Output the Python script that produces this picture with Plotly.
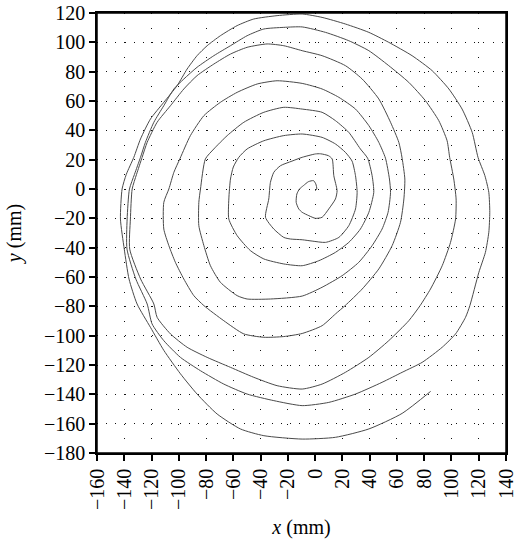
import plotly.graph_objects as go

# Spiral trajectory (mm), from the centre outward
path_x = [0.0, 1.2, 0.5, -1.2, -4.9, -8.6, -11.5, -13.4, -13.9, -12.0, -9.5, -4.6, 0.2, 5.1, 10.0, 14.9, 16.1, 13.7, 12.5, 9.8, 4.0, 0.2, -9.5, -17.0, -25.4,
          -30.3, -32.8, -34.0, -36.4, -30.3, -23.0, -18.1, -9.5, -2.2, 7.6, 17.4, 24.7, 29.6, 30.8, 29.6, 27.1, 22.2, 14.9, 5.1, -9.5, -23.0, -37.6, -49.9, -56.0,
          -60.0, -62.1, -63.3, -63.3, -57.2, -47.5, -37.6, -23.0, -9.5, 2.7, 14.9, 24.7, 33.2, 39.4, 43.0, 41.8, 38.5, 33.2, 24.7, 14.9, 5.1, -9.5, -23.0, -37.6, -52.3, -64.5, -74.3, -80.5,
          -84.1, -85.3, -85.3, -81.6, -76.8, -69.5, -57.2, -49.9, -32.8, -9.5, 5.1, 19.8, 32.0, 41.8, 49.1, 53.5, 55.3, 54.5, 51.6, 46.7, 39.4, 29.6, 17.4, 5.1, -9.5, -27.9, -42.5, -57.2, -69.5, -81.6, -91.5, -99.0,
          -103.6, -107.3, -111.0, -111.0, -107.3, -102.5, -96.3, -89.0, -81.6, -67.0, -52.3, -37.6, -23.0, -9.5, 5.1, 14.9, 22.0, 34.5, 46.7, 56.5, 62.6, 65.1, 65.8, 63.8, 61.4, 55.3, 46.7, 34.5, 22.2, 5.1, -9.5, -23.0, -35.2, -49.9, -62.1, -74.3, -86.6, -96.3, -106.1, -115.9, -123.2, -126.9,
          -131.0, -134.2, -135.5, -136.0, -128.0, -118.3, -115.9, -106.1, -93.9, -79.2, -62.1, -45.0, -27.9, -9.5, 5.1, 22.2, 39.4, 54.0, 68.7, 77.0, 84.6, 93.2, 99.3, 103.0, 103.4, 101.7, 98.7, 96.8, 90.7, 80.9, 68.7, 54.0, 39.4, 24.7, 7.6, -9.5, -23.0, -37.6, -49.9, -62.1, -74.3, -86.6, -96.3, -103.6, -111.0, -118.3, -124.5, -128.1,
          -132.5, -136.2, -137.9, -138.0, -131.5, -123.2, -119.6, -111.0, -98.8, -84.1, -67.0, -49.9, -30.3, -9.5, 10.0, 29.6, 49.1, 63.8, 78.5, 93.2, 103.0, 110.3, 113.5, 120.1, 124.9, 127.4, 128.1, 127.4, 124.5, 119.5, 115.2, 107.8, 98.1, 85.8, 71.1, 54.0, 39.4, 22.2, 5.1, -9.5, -27.9, -45.0, -57.2, -69.5, -79.2, -86.6, -93.9, -101.2, -111.0, -120.8, -128.1, -133.0,
          -138.5, -141.6, -142.8, -140.0, -136.5, -130.6, -120.8, -111.0, -98.8, -86.6, -71.9, -54.8, -37.6, -9.5, 14.9, 39.4, 63.8, 84.7]
path_y = [-1.2, 0.0, 3.4, 5.7, 5.0, 2.3, 0.0, -3.4, -9.1, -13.6, -15.9, -18.2, -20.0, -19.3, -13.6, -6.8, -1.2, 9.1, 20.5, 22.7, 24.0, 23.9, 21.6, 19.0, 15.9,
          11.4, 4.5, -6.8, -19.3, -27.3, -33.0, -34.1, -34.6, -35.5, -36.4, -33.0, -25.0, -13.6, -2.3, 9.1, 19.0, 25.0, 30.7, 35.2, 37.5, 36.4, 32.9, 27.3, 21.6,
          15.0, 6.8, -6.8, -20.5, -31.8, -42.0, -47.7, -51.1, -52.3, -48.9, -43.2, -36.4, -27.3, -15.9, -2.3, 9.1, 21.0, 27.3, 38.6, 46.6, 52.3, 54.5, 55.7, 52.3, 45.5, 36.4, 27.3, 20.5,
          0.0, -9.1, -25.0, -38.6, -52.3, -63.6, -72.7, -75.0, -75.0, -73.0, -67.0, -59.1, -50.0, -38.6, -27.3, -15.9, -2.3, 6.8, 21.0, 31.8, 43.2, 54.5, 62.5, 68.2, 72.0, 73.8, 71.6, 65.9, 59.1, 50.0, 36.4, 21.0,
          11.4, 0.0, -9.1, -27.3, -38.6, -50.0, -61.4, -72.7, -79.5, -89.8, -98.8, -101.1, -100.6, -98.5, -93.2, -85.2, -79.5, -68.2, -54.5, -38.6, -22.7, -6.8, 6.8, 21.0, 31.8, 45.5, 61.4, 75.0, 84.1, 90.9, 94.3, 97.7, 98.9, 96.6, 92.0, 85.2, 77.3, 68.2, 56.8, 45.5, 31.8, 21.6,
          10.0, 0.0, -20.5, -41.0, -61.4, -78.4, -87.5, -98.8, -107.9, -114.8, -121.6, -128.4, -134.1, -136.4, -133.0, -125.0, -114.8, -103.4, -89.8, -79.5, -68.2, -52.3, -36.4, -20.5, -6.8, 6.8, 21.5, 32.9, 46.6, 60.2, 72.7, 84.1, 94.3, 101.1, 106.8, 110.5, 110.2, 109.1, 104.5, 97.7, 90.9, 83.0, 75.0, 68.2, 56.8, 45.5, 31.8, 21.6,
          10.0, 0.0, -20.5, -41.0, -61.4, -78.4, -92.0, -103.4, -114.8, -123.9, -133.0, -139.8, -144.3, -147.7, -145.5, -139.8, -131.8, -125.0, -118.2, -107.9, -98.8, -87.5, -79.5, -56.8, -43.2, -29.5, -15.9, -2.3, 9.1, 21.5, 38.6, 54.5, 68.2, 80.7, 90.9, 100.0, 106.8, 112.5, 117.0, 119.3, 118.2, 115.9, 111.4, 104.5, 97.7, 90.9, 81.8, 70.5, 59.1, 47.7, 34.1, 21.6,
          10.0, 0.0, -20.5, -41.0, -61.4, -78.4, -94.3, -110.0, -126.0, -139.8, -153.4, -163.6, -168.2, -170.5, -169.3, -163.6, -153.0, -138.0]

x_ticks = list(range(-160, 141, 20))
y_ticks = list(range(-180, 121, 20))

font_family = "Liberation Serif, Times New Roman, serif"

fig = go.Figure()
fig.add_trace(go.Scatter(
    x=path_x, y=path_y, mode="lines",
    line=dict(color="#4a4a4a", width=1, shape="spline", smoothing=0.6),
    showlegend=False, hoverinfo="skip",
))

axis_common = dict(
    showline=True, linecolor="black", linewidth=1.5, mirror=True,
    ticks="outside", ticklen=6, tickwidth=1.5, tickcolor="black",
    showgrid=True, gridcolor="#111111", gridwidth=1,
    zeroline=False, automargin=False, ticklabeloverflow="allow",
    tickfont=dict(family=font_family, size=20, color="black"),
)

fig.update_xaxes(
    range=[-160, 140], tickvals=x_ticks, tickangle=-90,
    griddash="1px,13.67px",
    title=dict(text="<i>x</i> (mm)", font=dict(family=font_family, size=20, color="black"), standoff=11),
    **axis_common,
)
fig.update_yaxes(
    range=[-180, 120], tickvals=y_ticks,
    griddash="1px,8.2px",
    title=dict(text="<i>y</i> (mm)", font=dict(family=font_family, size=20, color="black"), standoff=17),
    **axis_common,
)

# frame around the plotting area
fig.add_shape(type="rect", xref="paper", yref="paper", x0=0, x1=1, y0=0, y1=1,
              line=dict(color="black", width=1.5), layer="above")

fig.update_layout(
    width=514, height=546,
    margin=dict(l=97, r=8, t=13, b=93),
    paper_bgcolor="white", plot_bgcolor="white",
)

fig.write_html(
    "out.html",
    config={"displayModeBar": False},
    post_script="document.body.style.margin='0';document.body.style.overflow='hidden';",
)
